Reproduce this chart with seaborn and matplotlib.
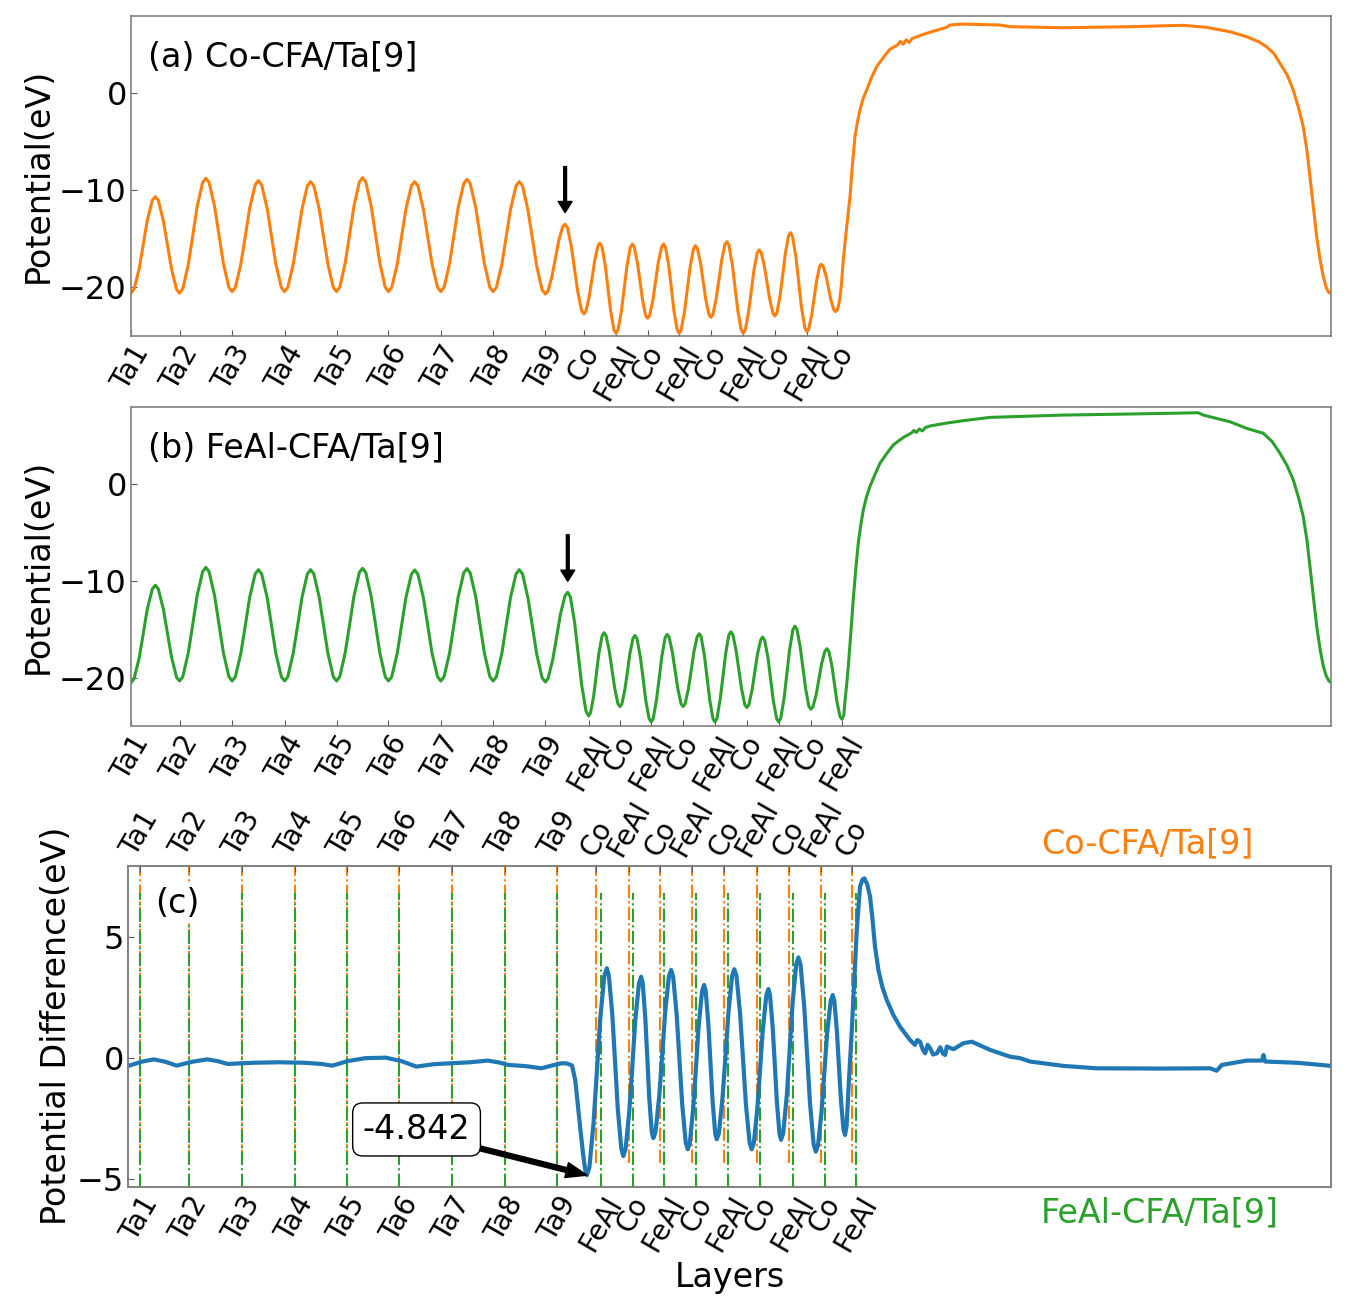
import matplotlib
matplotlib.use('Agg')
import matplotlib.pyplot as plt
import seaborn as sns

ORANGE = '#ff7f0e'
GREEN = '#2ca02c'
BLUE = '#1f77b4'

# ── layer positions (same x units in every panel) ─────────────────────────────
TA_POS = [0.00, 4.05, 8.43, 12.80, 17.13, 21.46, 25.82, 30.18, 34.53]
CO_CFA_POS = [37.75, 40.42, 43.05, 45.68, 48.33, 51.02, 53.67, 56.33, 58.87]
FEAL_CFA_POS = [38.14, 40.75, 43.35, 46.01, 48.66, 51.32, 53.98, 56.66, 59.25]

TA_LABELS = ['Ta1', 'Ta2', 'Ta3', 'Ta4', 'Ta5', 'Ta6', 'Ta7', 'Ta8', 'Ta9']
CO_CFA_LABELS = TA_LABELS + ['Co', 'FeAl', 'Co', 'FeAl', 'Co', 'FeAl', 'Co', 'FeAl', 'Co']
FEAL_CFA_LABELS = TA_LABELS + ['FeAl', 'Co', 'FeAl', 'Co', 'FeAl', 'Co', 'FeAl', 'Co', 'FeAl']

# ── (a) Co-CFA/Ta[9]: one row per extremum and the points read after it ───────
co_x = [0.00, 0.25, 0.68, 1.02, 1.35, 1.78,
        2.03, 2.28, 2.70, 3.04, 3.38, 3.80,
        4.05, 4.32, 4.78, 5.15, 5.51, 5.97,
        6.24, 6.51, 6.97, 7.34, 7.70, 8.16,
        8.43, 8.70, 9.16, 9.53, 9.89, 10.35,
        10.62, 10.89, 11.35, 11.71, 12.07, 12.53,
        12.80, 13.07, 13.52, 13.89, 14.25, 14.70,
        14.97, 15.24, 15.69, 16.05, 16.41, 16.86,
        17.13, 17.40, 17.85, 18.22, 18.58, 19.03,
        19.30, 19.57, 20.02, 20.38, 20.74, 21.19,
        21.46, 21.73, 22.19, 22.55, 22.91, 23.37,
        23.64, 23.91, 24.37, 24.73, 25.09, 25.55,
        25.82, 26.09, 26.55, 26.91, 27.27, 27.73,
        28.00, 28.27, 28.73, 29.09, 29.45, 29.91,
        30.18, 30.45, 30.91, 31.27, 31.63, 32.09,
        32.36, 32.63, 33.08, 33.45, 33.81, 34.26,
        34.53, 34.74, 35.08, 35.36, 35.63, 35.97,
        36.18, 36.38, 36.70, 36.97, 37.23, 37.55,
        37.75, 37.92, 38.19, 38.42, 38.64, 38.91,
        39.08, 39.25, 39.53, 39.75, 39.97, 40.25,
        40.42, 40.59, 40.87, 41.10, 41.33, 41.61,
        41.78, 41.94, 42.20, 42.42, 42.63, 42.89,
        43.05, 43.22, 43.50, 43.72, 43.94, 44.22,
        44.39, 44.55, 44.82, 45.04, 45.25, 45.52,
        45.68, 45.85, 46.13, 46.36, 46.59, 46.87,
        47.04, 47.20, 47.47, 47.69, 47.90, 48.17,
        48.33, 48.50, 48.77, 49.00, 49.22, 49.49,
        49.66, 49.83, 50.11, 50.34, 50.57, 50.85,
        51.02, 51.19, 51.46, 51.69, 51.91, 52.18,
        52.35, 52.52, 52.79, 53.01, 53.23, 53.51,
        53.67, 53.83, 54.10, 54.32, 54.53, 54.80,
        54.96, 55.13, 55.42, 55.65, 55.87, 56.16,
        56.33, 56.48, 56.73, 56.93, 57.13, 57.38,
        57.53, 57.68, 57.93, 58.13, 58.32, 58.57,
        58.72,
        58.88, 59.05, 59.20, 59.36, 59.64, 59.92, 60.12, 60.33, 60.55, 60.75,
        61.00, 61.31, 61.70, 62.14, 62.70, 63.25, 63.90, 64.10, 64.35, 64.60,
        64.85, 65.10, 65.55, 66.03, 67.00, 67.97, 68.25, 69.36, 72.42, 73.25,
        77.69, 83.25, 87.69, 89.64, 91.58, 92.97, 94.00, 94.64, 95.25, 95.75,
        96.35, 96.86, 97.30, 97.69, 98.00, 98.25, 98.55, 98.81, 99.10, 99.36,
        99.60, 99.83, 100.00]
co_y = [-20.60, -20.22, -18.12, -15.63, -13.15, -11.04,
        -10.66, -11.04, -13.15, -15.63, -18.12, -20.22,
        -20.60, -20.15, -17.64, -14.68, -11.72, -9.21,
        -8.76, -9.20, -11.68, -14.61, -17.53, -20.01,
        -20.45, -20.01, -17.59, -14.73, -11.86, -9.44,
        -9.00, -9.44, -11.86, -14.73, -17.59, -20.01,
        -20.45, -20.02, -17.62, -14.78, -11.95, -9.54,
        -9.11, -9.54, -11.95, -14.78, -17.62, -20.02,
        -20.45, -20.00, -17.51, -14.58, -11.64, -9.15,
        -8.70, -9.15, -11.64, -14.58, -17.51, -20.00,
        -20.45, -20.02, -17.62, -14.78, -11.95, -9.54,
        -9.11, -9.54, -11.95, -14.78, -17.62, -20.02,
        -20.45, -20.01, -17.56, -14.66, -11.77, -9.31,
        -8.87, -9.31, -11.77, -14.66, -17.56, -20.01,
        -20.45, -20.02, -17.62, -14.78, -11.95, -9.54,
        -9.11, -9.55, -12.01, -14.91, -17.80, -20.26,
        -20.70, -20.43, -18.90, -17.10, -15.30, -13.77,
        -13.50, -13.85, -15.81, -18.13, -20.44, -22.40,
        -22.75, -22.47, -20.93, -19.11, -17.28, -15.74,
        -15.46, -15.81, -17.78, -20.10, -22.42, -24.39,
        -24.74, -24.39, -22.44, -20.14, -17.84, -15.89,
        -15.54, -15.83, -17.46, -19.37, -21.29, -22.91,
        -23.20, -22.91, -21.29, -19.37, -17.46, -15.83,
        -15.54, -15.89, -17.84, -20.14, -22.44, -24.39,
        -24.74, -24.40, -22.48, -20.23, -17.97, -16.05,
        -15.71, -15.99, -17.56, -19.41, -21.25, -22.82,
        -23.10, -22.80, -21.15, -19.20, -17.25, -15.60,
        -15.30, -15.66, -17.66, -20.02, -22.38, -24.38,
        -24.74, -24.41, -22.59, -20.45, -18.30, -16.48,
        -16.15, -16.41, -17.85, -19.56, -21.26, -22.70,
        -22.96, -22.63, -20.81, -18.67, -16.52, -14.70,
        -14.37, -14.76, -16.92, -19.48, -22.03, -24.19,
        -24.58, -24.32, -22.84, -21.11, -19.37, -17.89,
        -17.63, -17.82, -18.85, -20.07, -21.28, -22.32,
        -22.50,
        -22.30, -21.40, -19.80, -17.19, -13.80, -10.66, -7.40, -4.50, -2.90, -1.72,
        -0.60, 0.34, 1.60, 2.74, 3.70, 4.54, 5.00, 5.35, 5.05, 5.50,
        5.25, 5.65, 5.85, 6.08, 6.45, 6.80, 7.04, 7.14, 7.04, 6.87,
        6.76, 6.87, 7.01, 6.80, 6.35, 5.84, 5.30, 4.80, 4.10, 3.09,
        1.90, 0.34, -1.50, -3.44, -5.90, -8.60, -11.90, -14.78, -17.20, -18.90,
        -20.00, -20.56, -20.60]

# ── (b) FeAl-CFA/Ta[9] ────────────────────────────────────────────────────────
feal_x = [0.00, 0.25, 0.68, 1.02, 1.35, 1.78,
          2.03, 2.28, 2.70, 3.04, 3.38, 3.80,
          4.05, 4.32, 4.78, 5.15, 5.51, 5.97,
          6.24, 6.51, 6.97, 7.34, 7.70, 8.16,
          8.43, 8.70, 9.16, 9.53, 9.89, 10.35,
          10.62, 10.89, 11.35, 11.71, 12.07, 12.53,
          12.80, 13.07, 13.52, 13.89, 14.25, 14.70,
          14.97, 15.24, 15.69, 16.05, 16.41, 16.86,
          17.13, 17.40, 17.85, 18.22, 18.58, 19.03,
          19.30, 19.57, 20.02, 20.38, 20.74, 21.19,
          21.46, 21.73, 22.19, 22.55, 22.91, 23.37,
          23.64, 23.91, 24.37, 24.73, 25.09, 25.55,
          25.82, 26.09, 26.55, 26.91, 27.27, 27.73,
          28.00, 28.27, 28.73, 29.09, 29.45, 29.91,
          30.18, 30.45, 30.91, 31.27, 31.63, 32.09,
          32.36, 32.63, 33.08, 33.45, 33.81, 34.26,
          34.53, 34.76, 35.15, 35.47, 35.78, 36.17,
          36.40, 36.62, 36.98, 37.27, 37.56, 37.92,
          38.14, 38.30, 38.57, 38.78, 38.99, 39.26,
          39.42, 39.59, 39.86, 40.09, 40.31, 40.58,
          40.75, 40.91, 41.17, 41.38, 41.58, 41.84,
          42.00, 42.17, 42.45, 42.68, 42.90, 43.18,
          43.35, 43.52, 43.79, 44.02, 44.24, 44.51,
          44.68, 44.85, 45.12, 45.35, 45.57, 45.84,
          46.01, 46.18, 46.46, 46.69, 46.91, 47.19,
          47.36, 47.52, 47.79, 48.01, 48.23, 48.50,
          48.66, 48.83, 49.10, 49.33, 49.55, 49.82,
          49.99, 50.16, 50.43, 50.66, 50.88, 51.15,
          51.32, 51.49, 51.76, 51.98, 52.20, 52.48,
          52.64, 52.81, 53.09, 53.31, 53.53, 53.81,
          53.98, 54.15, 54.43, 54.66, 54.88, 55.16,
          55.33, 55.50, 55.77, 56.00, 56.22, 56.49,
          56.66, 56.83, 57.11, 57.33, 57.55, 57.83,
          58.00, 58.16, 58.42, 58.63, 58.83, 59.09,
          59.25,
          59.40, 59.52, 59.65, 59.78, 60.00, 60.19, 60.40, 60.61, 60.82, 61.03,
          61.30, 61.58, 62.00, 62.42, 63.00, 63.53, 64.00, 64.40, 65.05, 65.25,
          65.45, 65.70, 65.95, 66.20, 66.58, 67.90, 69.36, 71.58, 77.69, 83.25,
          88.94, 89.36, 91.58, 92.97, 94.36, 95.10, 95.75, 96.35, 96.86, 97.30,
          97.69, 98.00, 98.25, 98.55, 98.81, 99.10, 99.36, 99.60, 99.83, 100.00]
feal_y = [-20.52, -20.14, -18.00, -15.49, -12.97, -10.83,
          -10.45, -10.83, -12.93, -15.40, -17.88, -19.97,
          -20.35, -19.90, -17.41, -14.48, -11.54, -9.05,
          -8.60, -9.05, -11.54, -14.48, -17.41, -19.90,
          -20.35, -19.91, -17.47, -14.60, -11.72, -9.28,
          -8.84, -9.28, -11.72, -14.60, -17.47, -19.91,
          -20.35, -19.91, -17.47, -14.60, -11.72, -9.28,
          -8.84, -9.28, -11.72, -14.60, -17.47, -19.91,
          -20.35, -19.91, -17.44, -14.53, -11.61, -9.14,
          -8.70, -9.14, -11.61, -14.53, -17.44, -19.91,
          -20.35, -19.91, -17.48, -14.61, -11.74, -9.31,
          -8.87, -9.31, -11.74, -14.61, -17.48, -19.91,
          -20.35, -19.91, -17.45, -14.54, -11.64, -9.17,
          -8.73, -9.17, -11.64, -14.54, -17.45, -19.91,
          -20.35, -19.91, -17.47, -14.60, -11.72, -9.28,
          -8.84, -9.28, -11.74, -14.65, -17.55, -20.01,
          -20.45, -20.10, -18.13, -15.82, -13.50, -11.53,
          -11.18, -11.67, -14.38, -17.57, -20.77, -23.47,
          -23.96, -23.63, -21.81, -19.66, -17.51, -15.69,
          -15.36, -15.65, -17.27, -19.18, -21.08, -22.70,
          -22.99, -22.71, -21.15, -19.32, -17.48, -15.92,
          -15.64, -15.98, -17.88, -20.11, -22.35, -24.24,
          -24.58, -24.24, -22.32, -20.06, -17.80, -15.88,
          -15.54, -15.82, -17.40, -19.27, -21.13, -22.71,
          -22.99, -22.70, -21.11, -19.23, -17.34, -15.75,
          -15.46, -15.81, -17.74, -20.02, -22.30, -24.23,
          -24.58, -24.23, -22.25, -19.92, -17.59, -15.61,
          -15.26, -15.56, -17.22, -19.18, -21.13, -22.79,
          -23.09, -22.81, -21.27, -19.45, -17.63, -16.09,
          -15.81, -16.14, -18.00, -20.20, -22.39, -24.25,
          -24.58, -24.20, -22.11, -19.63, -17.16, -15.06,
          -14.68, -15.01, -16.83, -18.98, -21.12, -22.94,
          -23.27, -23.03, -21.71, -20.14, -18.58, -17.25,
          -17.01, -17.29, -18.83, -20.66, -22.48, -24.02,
          -24.30,
          -23.90, -22.20, -20.60, -18.80, -15.20, -11.93, -8.80, -6.08, -4.20, -2.65,
          -1.30, -0.25, 1.00, 2.16, 3.20, 4.05, 4.50, 4.85, 5.30, 5.55,
          5.35, 5.70, 5.50, 5.85, 6.01, 6.30, 6.56, 6.90, 7.14, 7.25,
          7.38, 7.14, 6.45, 5.77, 5.26, 4.40, 3.20, 1.90, 0.44, -1.40,
          -3.34, -5.80, -8.49, -11.80, -14.68, -17.10, -18.80, -19.80, -20.35, -20.50]

# ── (c) potential difference ──────────────────────────────────────────────────
diff_x = [-0.97, -0.90, 0.10, 1.13, 2.10, 3.02, 4.30, 5.55, 6.40, 7.25,
          9.36, 11.50, 13.58, 15.00, 15.89, 17.20, 18.64, 20.33, 21.60, 22.86,
          24.30, 25.81, 27.30, 28.77, 29.70, 30.46, 31.90, 33.20, 34.10, 34.89,
          35.30, 35.73, 36.00, 36.40, 36.67, 36.82,
          36.96, 37.17, 37.51, 37.79, 38.06, 38.40,
          38.61, 38.78, 39.07, 39.30, 39.52, 39.81,
          39.98, 40.16, 40.47, 40.72, 40.96, 41.27,
          41.45, 41.58, 41.79, 41.96, 42.12, 42.33,
          42.46, 42.64, 42.95, 43.20, 43.44, 43.75,
          43.93, 44.10, 44.39, 44.62, 44.85, 45.14,
          45.31, 45.48, 45.76, 45.99, 46.21, 46.49,
          46.66, 46.79, 47.01, 47.19, 47.36, 47.58,
          47.71, 47.89, 48.19, 48.44, 48.68, 48.98,
          49.16, 49.34, 49.64, 49.88, 50.12, 50.42,
          50.60, 50.77, 51.06, 51.29, 51.52, 51.81,
          51.98, 52.11, 52.33, 52.51, 52.68, 52.90,
          53.03, 53.21, 53.51, 53.75, 53.98, 54.28,
          54.46, 54.64, 54.94, 55.18, 55.42, 55.72,
          55.90, 56.08, 56.37, 56.60, 56.83, 57.13,
          57.30, 57.43, 57.64, 57.81, 57.98, 58.19,
          58.32, 58.45, 58.60, 58.88, 59.08, 59.29, 59.56, 59.75, 59.92, 60.15,
          60.39, 60.60, 60.80, 61.08, 61.40, 61.77, 62.30, 62.87, 63.70, 64.10,
          64.30, 64.53, 64.75, 64.95, 65.15, 65.36, 65.60, 65.91, 66.20, 66.40,
          66.60, 66.74, 67.29, 68.12, 68.81, 70.33, 71.97, 72.80, 73.63, 76.38,
          79.14, 84.66, 88.52, 89.07, 89.49, 91.56, 92.80, 92.94, 93.07, 95.69,
          98.53]
diff_y = [-0.30, -0.31, -0.15, -0.05, -0.15, -0.31, -0.15, -0.05, -0.12, -0.24,
          -0.19, -0.17, -0.19, -0.24, -0.31, -0.12, 0.00, 0.02, -0.12, -0.35,
          -0.25, -0.21, -0.17, -0.10, -0.18, -0.28, -0.33, -0.42, -0.30, -0.21,
          -0.22, -0.30, -0.90, -2.83, -4.07, -4.60,
          -4.842, -4.52, -2.70, -0.56, 1.58, 3.39,
          3.72, 3.42, 1.78, -0.17, -2.11, -3.75,
          -4.05, -3.77, -2.20, -0.34, 1.52, 3.09,
          3.37, 3.12, 1.70, 0.03, -1.64, -3.06,
          -3.31, -3.05, -1.57, 0.17, 1.91, 3.39,
          3.65, 3.37, 1.80, -0.06, -1.92, -3.49,
          -3.77, -3.51, -2.07, -0.37, 1.33, 2.77,
          3.03, 2.79, 1.43, -0.17, -1.76, -3.12,
          -3.36, -3.09, -1.60, 0.16, 1.92, 3.41,
          3.68, 3.40, 1.82, -0.05, -1.91, -3.49,
          -3.77, -3.52, -2.11, -0.46, 1.20, 2.61,
          2.86, 2.62, 1.30, -0.26, -1.82, -3.14,
          -3.38, -3.09, -1.49, 0.40, 2.28, 3.88,
          4.17, 3.86, 2.16, 0.15, -1.86, -3.56,
          -3.87, -3.62, -2.25, -0.63, 0.99, 2.36,
          2.61, 2.39, 1.16, -0.29, -1.73, -2.96,
          -3.18, -2.80, -1.30, 1.17, 3.20, 5.30, 7.10, 7.38, 7.44, 7.20,
          6.68, 5.70, 4.61, 3.65, 2.95, 2.41, 1.80, 1.30, 0.75, 0.55,
          0.75, 0.68, 0.35, 0.20, 0.55, 0.41, 0.15, 0.20, 0.45, 0.20,
          0.13, 0.48, 0.37, 0.62, 0.68, 0.34, 0.06, 0.00, -0.14, -0.32,
          -0.42, -0.43, -0.42, -0.52, -0.28, -0.10, -0.10, 0.13, -0.14, -0.19,
          -0.32]

MIN_LABEL = '-4.842'


def style_axis(ax):
    for s in ax.spines.values():
        s.set_color('0.5')
        s.set_linewidth(1.2)
    ax.tick_params(axis='both', direction='in', length=4, color='0.35',
                   labelcolor='black')
    ax.tick_params(axis='y', labelsize=23, pad=3)


def main():
    sns.set_style('ticks')
    plt.rcParams['font.family'] = ['DejaVu Sans']
    plt.rcParams['text.color'] = 'black'
    plt.rcParams['axes.labelcolor'] = 'black'

    fig = plt.figure(figsize=(13.7, 13.1), dpi=100)
    ax_a = fig.add_axes([0.0956, 0.7437, 0.8759, 0.2443])
    ax_b = fig.add_axes([0.0956, 0.4458, 0.8759, 0.2437])
    ax_c = fig.add_axes([0.0937, 0.0941, 0.8779, 0.2450])

    # panels (a) and (b)
    panels = [
        (ax_a, co_x, co_y, ORANGE, CO_CFA_POS, CO_CFA_LABELS, '(a) Co-CFA/Ta[9]', 36.18, -7.55, -12.3),
        (ax_b, feal_x, feal_y, GREEN, FEAL_CFA_POS, FEAL_CFA_LABELS, '(b) FeAl-CFA/Ta[9]', 36.40, -5.23, -10.04),
    ]
    for ax, xs, ys, color, cfa_pos, labels, title, ax_x, y_tail, y_tip in panels:
        sns.lineplot(x=xs, y=ys, ax=ax, color=color, linewidth=2.2,
                     estimator=None, sort=False)
        ax.set_xlim(0, 100)
        ax.set_ylim(-25, 8)
        ax.set_yticks([-20, -10, 0])
        ax.set_xticks(TA_POS + cfa_pos)
        ax.set_xticklabels(labels, rotation=60, fontsize=20)
        ax.set_ylabel('Potential(eV)', fontsize=24, labelpad=3)
        ax.text(0.0142, 0.87, title, transform=ax.transAxes, fontsize=24,
                va='center', ha='left')
        ax.annotate('', xy=(ax_x, y_tip), xytext=(ax_x, y_tail),
                    arrowprops=dict(facecolor='black', edgecolor='black',
                                    width=2, headwidth=10, headlength=8))
        style_axis(ax)

    # panel (c)
    for p in TA_POS + CO_CFA_POS:
        ax_c.axvline(p, ymin=0.073, ymax=1.0, color=ORANGE, ls='-.', lw=1.5, zorder=1)
    for p in TA_POS + FEAL_CFA_POS:
        ax_c.axvline(p, ymin=0.0, ymax=0.915, color=GREEN, ls='-.', lw=1.5, zorder=1.5)

    sns.lineplot(x=diff_x, y=diff_y, ax=ax_c, color=BLUE, linewidth=3.0,
                 estimator=None, sort=False, zorder=3)
    ax_c.set_xlim(-0.97, 98.53)
    ax_c.set_ylim(-5.32, 7.96)
    ax_c.set_yticks([-5, 0, 5])
    ax_c.set_xticks(TA_POS + FEAL_CFA_POS)
    ax_c.set_xticklabels(FEAL_CFA_LABELS, rotation=60, fontsize=20)
    ax_c.set_ylabel('Potential Difference(eV)', fontsize=24, labelpad=3)
    ax_c.set_xlabel('Layers', fontsize=24)
    ax_c.xaxis.set_label_coords(0.5, -0.23)
    ax_c.text(0.0222, 0.884, '(c)', transform=ax_c.transAxes, fontsize=24,
              va='center', ha='left', zorder=4,
              bbox=dict(facecolor='white', edgecolor='none', pad=2))
    ax_c.annotate(MIN_LABEL, xy=(36.96, -4.842), xytext=(22.87, -2.95),
                  fontsize=24, ha='center', va='center', zorder=5,
                  bbox=dict(boxstyle='round,pad=0.3', fc='white', ec='black'),
                  arrowprops=dict(facecolor='black', edgecolor='black', width=3.5,
                                  headwidth=11, headlength=15))
    ax_c.text(0.7586, 1.0676, 'Co-CFA/Ta[9]', transform=ax_c.transAxes,
              color=ORANGE, fontsize=24, va='center', ha='left')
    ax_c.text(0.7586, -0.082, 'FeAl-CFA/Ta[9]', transform=ax_c.transAxes,
              color=GREEN, fontsize=24, va='center', ha='left')
    style_axis(ax_c)

    ax_top = ax_c.twiny()
    ax_top.set_xlim(ax_c.get_xlim())
    ax_top.set_xticks(TA_POS + CO_CFA_POS)
    ax_top.set_xticklabels(CO_CFA_LABELS, rotation=60, fontsize=20)
    style_axis(ax_top)

    fig.savefig('out.png', dpi=100)


if __name__ == '__main__':
    main()
